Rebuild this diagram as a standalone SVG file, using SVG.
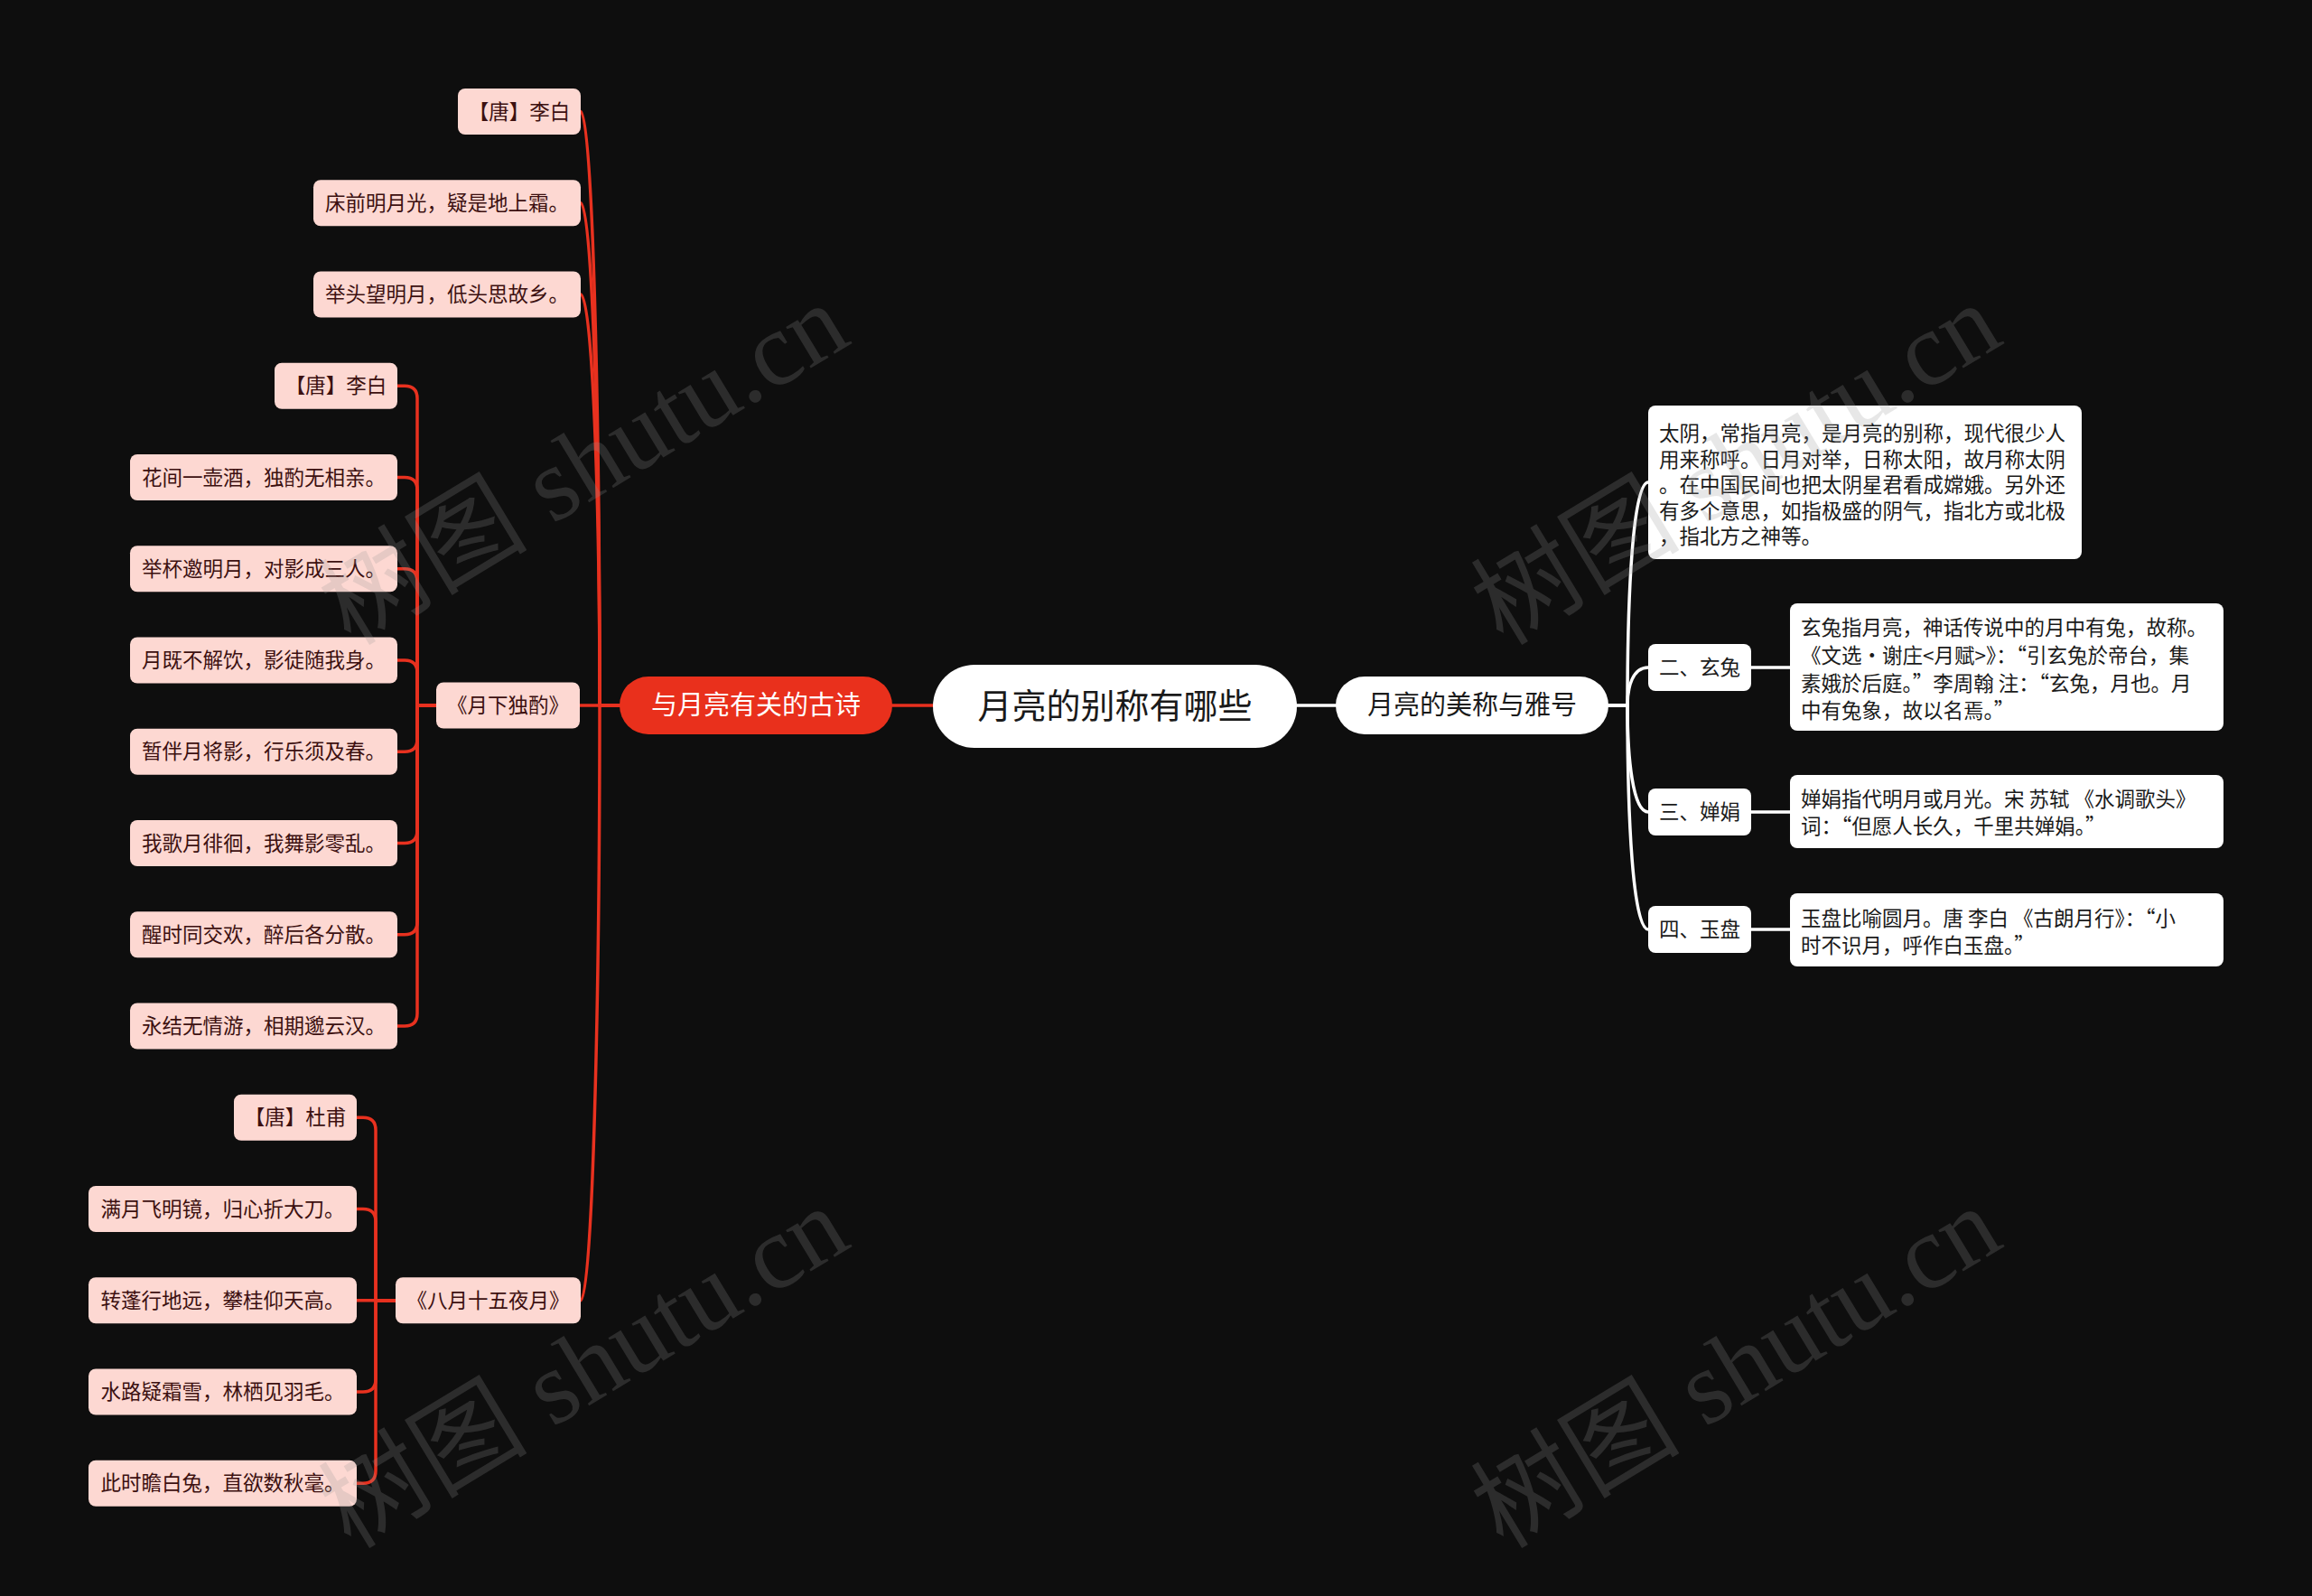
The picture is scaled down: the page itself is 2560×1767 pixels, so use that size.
<svg xmlns="http://www.w3.org/2000/svg" width="2560" height="1767" viewBox="0 0 2560 1767">
<defs>
<style>
.leaf{fill:#fdd8d2}
.lt{font-family:"Noto Sans CJK SC","Noto Sans",sans-serif;font-size:22.5px;fill:#3c1010;text-anchor:middle}
.wbox{fill:#ffffff}
.wt{font-family:"Noto Sans CJK SC","Noto Sans",sans-serif;font-size:22.5px;fill:#1a1a1a}
.wtm{font-family:"Noto Sans CJK SC","Noto Sans",sans-serif;font-size:22.5px;fill:#1a1a1a;text-anchor:middle}
.red{fill:none;stroke:#e8311f;stroke-width:3.5;stroke-linecap:round}
.white{fill:none;stroke:#ffffff;stroke-width:3.5;stroke-linecap:round}
.wm{font-family:"Liberation Serif","Noto Sans CJK SC",serif;font-size:116px;fill:#969696;opacity:0.22;text-anchor:middle}
</style>
</defs>
<rect x="0" y="0" width="2560" height="1767" fill="#0e0e0e"/>

<g id="connectors">
<path class="red" d="M988 781H1033"/>
<path class="white" d="M1436 781H1479"/>
<path class="red" d="M686 781H664C664 452 656 123.5 643 123.5"/>
<path class="red" d="M686 781H664C664 503 656 224.75 643 224.75"/>
<path class="red" d="M686 781H664C664 553 656 326 643 326"/>
<path class="red" d="M686 781H642"/>
<path class="red" d="M686 781H664C664 1110 656 1439.75 643 1439.75"/>
<path class="red" d="M483 781H462V441.25Q462 427.25 448 427.25H440"/>
<path class="red" d="M483 781H462V542.5Q462 528.5 448 528.5H440"/>
<path class="red" d="M483 781H462V643.75Q462 629.75 448 629.75H440"/>
<path class="red" d="M483 781H462V745Q462 731 448 731H440"/>
<path class="red" d="M483 781H462V818.25Q462 832.25 448 832.25H440"/>
<path class="red" d="M483 781H462V919.5Q462 933.5 448 933.5H440"/>
<path class="red" d="M483 781H462V1020.75Q462 1034.75 448 1034.75H440"/>
<path class="red" d="M483 781H462V1122Q462 1136 448 1136H440"/>
<path class="red" d="M438 1439.75H416V1251.25Q416 1237.25 402 1237.25H395"/>
<path class="red" d="M438 1439.75H416V1352.5Q416 1338.5 402 1338.5H395"/>
<path class="red" d="M438 1439.75H395"/>
<path class="red" d="M438 1439.75H416V1527Q416 1541 402 1541H395"/>
<path class="red" d="M438 1439.75H416V1628.25Q416 1642.25 402 1642.25H395"/>
<path class="white" d="M1781 781H1802C1802 658 1808 534 1825 534"/>
<path class="white" d="M1781 781H1802C1802 760 1808 739 1825 739"/>
<path class="white" d="M1781 781H1802C1802 840 1808 899 1825 899"/>
<path class="white" d="M1781 781H1802C1802 905 1808 1029 1825 1029"/>
<path class="white" d="M1939 739H1982"/>
<path class="white" d="M1939 899H1982"/>
<path class="white" d="M1939 1029H1982"/>
</g>

<g id="root">
<rect x="1033" y="736" width="403" height="92" rx="46" fill="#ffffff"/>
<text x="1234.5" y="795" font-family="Noto Sans CJK SC, sans-serif" font-size="38" fill="#1a1a1a" text-anchor="middle">月亮的别称有哪些</text>
</g>

<g id="poems">
<rect x="686" y="749" width="302" height="64" rx="32" fill="#e9301c"/>
<text x="837" y="791" font-family="Noto Sans CJK SC, sans-serif" font-size="29" fill="#ffffff" text-anchor="middle">与月亮有关的古诗</text>
</g>

<g id="names">
<rect x="1479" y="749" width="302" height="64" rx="32" fill="#ffffff"/>
<text x="1630" y="791" font-family="Noto Sans CJK SC, sans-serif" font-size="29" fill="#1a1a1a" text-anchor="middle">月亮的美称与雅号</text>
</g>

<g id="n-libai1"><rect class="leaf" x="507" y="98" width="136" height="51" rx="8"/><text class="lt" x="575" y="131.5">【唐】李白</text></g>
<g id="n-chuangqian"><rect class="leaf" x="347" y="199.25" width="296" height="51" rx="8"/><text class="lt" x="495" y="232.75">床前明月光，疑是地上霜。</text></g>
<g id="n-jutou"><rect class="leaf" x="347" y="300.5" width="296" height="51" rx="8"/><text class="lt" x="495" y="334">举头望明月，低头思故乡。</text></g>

<g id="g-yuexia"><rect class="leaf" x="483" y="755.5" width="159" height="51" rx="8"/><text class="lt" x="562.5" y="789">《月下独酌》</text></g>
<g id="n-libai2"><rect class="leaf" x="304" y="401.75" width="136" height="51" rx="8"/><text class="lt" x="372" y="435.25">【唐】李白</text></g>
<g id="n-huajian"><rect class="leaf" x="144" y="503" width="296" height="51" rx="8"/><text class="lt" x="292" y="536.5">花间一壶酒，独酌无相亲。</text></g>
<g id="n-jubei"><rect class="leaf" x="144" y="604.25" width="296" height="51" rx="8"/><text class="lt" x="292" y="637.75">举杯邀明月，对影成三人。</text></g>
<g id="n-yueji"><rect class="leaf" x="144" y="705.5" width="296" height="51" rx="8"/><text class="lt" x="292" y="739">月既不解饮，影徒随我身。</text></g>
<g id="n-zanban"><rect class="leaf" x="144" y="806.75" width="296" height="51" rx="8"/><text class="lt" x="292" y="840.25">暂伴月将影，行乐须及春。</text></g>
<g id="n-woge"><rect class="leaf" x="144" y="908" width="296" height="51" rx="8"/><text class="lt" x="292" y="941.5">我歌月徘徊，我舞影零乱。</text></g>
<g id="n-xingshi"><rect class="leaf" x="144" y="1009.25" width="296" height="51" rx="8"/><text class="lt" x="292" y="1042.75">醒时同交欢，醉后各分散。</text></g>
<g id="n-yongjie"><rect class="leaf" x="144" y="1110.5" width="296" height="51" rx="8"/><text class="lt" x="292" y="1144">永结无情游，相期邈云汉。</text></g>

<g id="g-bayue"><rect class="leaf" x="438" y="1414.25" width="205" height="51" rx="8"/><text class="lt" x="540.5" y="1447.75">《八月十五夜月》</text></g>
<g id="n-dufu"><rect class="leaf" x="259" y="1211.75" width="136" height="51" rx="8"/><text class="lt" x="327" y="1245.25">【唐】杜甫</text></g>
<g id="n-manyue"><rect class="leaf" x="98" y="1313" width="297" height="51" rx="8"/><text class="lt" x="246.5" y="1346.5">满月飞明镜，归心折大刀。</text></g>
<g id="n-zhuanpeng"><rect class="leaf" x="98" y="1414.25" width="297" height="51" rx="8"/><text class="lt" x="246.5" y="1447.75">转蓬行地远，攀桂仰天高。</text></g>
<g id="n-shuilu"><rect class="leaf" x="98" y="1515.5" width="297" height="51" rx="8"/><text class="lt" x="246.5" y="1549">水路疑霜雪，林栖见羽毛。</text></g>
<g id="n-cishi"><rect class="leaf" x="98" y="1616.75" width="297" height="51" rx="8"/><text class="lt" x="246.5" y="1650.25">此时瞻白兔，直欲数秋毫。</text></g>

<g id="n-taiyin">
<rect class="wbox" x="1825" y="449" width="480" height="170" rx="8"/>
<text class="wt" x="1837" y="488">太阴，常指月亮，是月亮的别称，现代很少人</text>
<text class="wt" x="1837" y="517">用来称呼。日月对举，日称太阳，故月称太阴</text>
<text class="wt" x="1837" y="545">。在中国民间也把太阴星君看成嫦娥。另外还</text>
<text class="wt" x="1837" y="573.5">有多个意思，如指极盛的阴气，指北方或北极</text>
<text class="wt" x="1837" y="602">，指北方之神等。</text>
</g>

<g id="n-xuantu"><rect class="wbox" x="1825" y="713" width="114" height="52" rx="8"/><text class="wtm" x="1882" y="747">二、玄兔</text></g>
<g id="n-xuantu-d">
<rect class="wbox" x="1982" y="668" width="480" height="141" rx="8"/>
<text class="wt" x="1994" y="703">玄兔指月亮，神话传说中的月中有兔，故称。</text>
<text class="wt" x="1994" y="734">《文选·谢庄&lt;月赋&gt;》：“引玄兔於帝台，集</text>
<text class="wt" x="1994" y="765">素娥於后庭。”李周翰 注：“玄兔，月也。月</text>
<text class="wt" x="1994" y="795">中有兔象，故以名焉。”</text>
</g>

<g id="n-chanjuan"><rect class="wbox" x="1825" y="873" width="114" height="52" rx="8"/><text class="wtm" x="1882" y="907">三、婵娟</text></g>
<g id="n-chanjuan-d">
<rect class="wbox" x="1982" y="858" width="480" height="81" rx="8"/>
<text class="wt" x="1994" y="893">婵娟指代明月或月光。宋 苏轼 《水调歌头》</text>
<text class="wt" x="1994" y="923">词：“但愿人长久，千里共婵娟。”</text>
</g>

<g id="n-yupan"><rect class="wbox" x="1825" y="1003" width="114" height="52" rx="8"/><text class="wtm" x="1882" y="1037">四、玉盘</text></g>
<g id="n-yupan-d">
<rect class="wbox" x="1982" y="989" width="480" height="81" rx="8"/>
<text class="wt" x="1994" y="1024.5">玉盘比喻圆月。唐 李白 《古朗月行》：“小</text>
<text class="wt" x="1994" y="1054.5">时不识月，呼作白玉盘。”</text>
</g>

<g id="watermarks">
<text class="wm" transform="translate(647 515) rotate(-31.2)" x="0" y="38">树图 shutu.cn</text>
<text class="wm" transform="translate(1923 515) rotate(-31.2)" x="0" y="38">树图 shutu.cn</text>
<text class="wm" transform="translate(647 1515) rotate(-31.2)" x="0" y="38">树图 shutu.cn</text>
<text class="wm" transform="translate(1923 1515) rotate(-31.2)" x="0" y="38">树图 shutu.cn</text>
</g>
</svg>
